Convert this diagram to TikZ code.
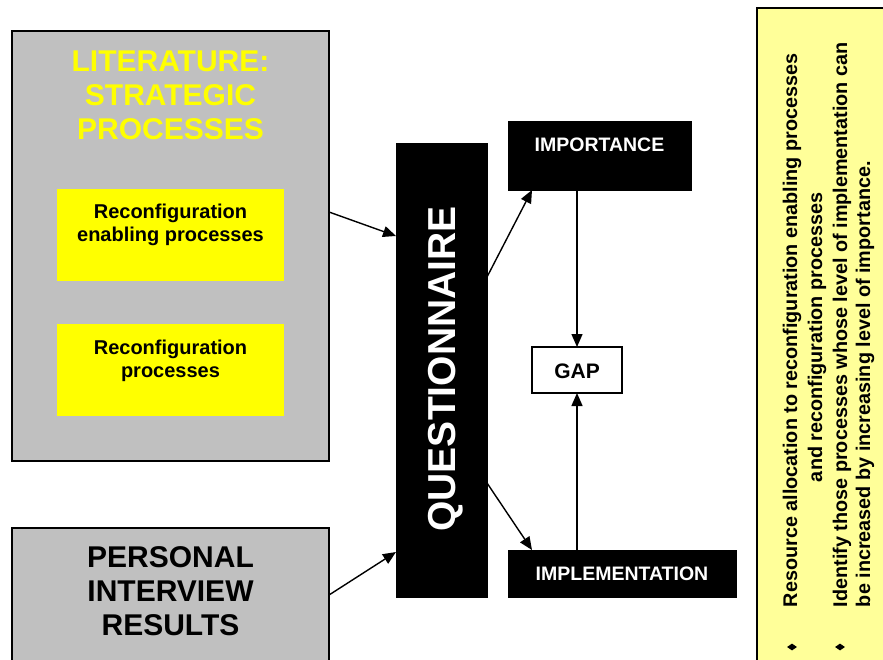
\documentclass[tikz,border=0pt]{standalone}
\usepackage{fontspec}
\setmainfont{Liberation Sans}
\usetikzlibrary{arrows.meta,shapes.geometric}

\definecolor{boxgray}{HTML}{C0C0C0}
\definecolor{hiyellow}{HTML}{FFFF00}
\definecolor{paleyellow}{HTML}{FFFF99}

\tikzset{
  panel/.style={draw=black, line width=1.2pt, inner sep=0pt, outer sep=0pt, rectangle},
  graypanel/.style={panel, fill=boxgray},
  yellowbox/.style={rectangle, fill=hiyellow, draw=none, inner sep=0pt, outer sep=0pt},
  blackbox/.style={rectangle, fill=black, draw=black, inner sep=0pt, outer sep=0pt},
  whitebox/.style={rectangle, fill=white, draw=black, line width=1.2pt, inner sep=0pt, outer sep=0pt},
  % multi-line texts are placed by the baseline of their last line
  txt/.style={inner sep=0pt, outer sep=0pt, anchor=base, align=center},
  flow/.style={line width=1.4pt, -{Triangle[length=13pt,width=11pt]}},
  bullet/.style={diamond, fill=black, inner sep=0pt, minimum width=10pt, minimum height=7pt}
}

\begin{document}
\begin{tikzpicture}[x=1pt,y=-1pt]
\useasboundingbox (0,0) rectangle (883,659);
\clip (0,0) rectangle (883,659);

% literature block with its two process groups
\node[graypanel, minimum width=317pt, minimum height=430pt] (lit) at (170.5,246) {};
\node[txt, text=hiyellow, font=\fontsize{30}{34}\selectfont\bfseries] (littitle) at (170.5,139)
  {LITERATURE:\\STRATEGIC\\PROCESSES};
\node[yellowbox, minimum width=227pt, minimum height=92pt] (recA) at (170.5,235) {};
\node[txt, font=\fontsize{20}{23}\selectfont\bfseries] (recAtext) at (170.5,241)
  {Reconfiguration\\enabling processes};
\node[yellowbox, minimum width=227pt, minimum height=92pt] (recB) at (170.5,370) {};
\node[txt, font=\fontsize{20}{23}\selectfont\bfseries] (recBtext) at (170.5,377)
  {Reconfiguration\\processes};

% interview results block
\node[graypanel, minimum width=317pt, minimum height=134pt] (pers) at (170.5,595) {};
\node[txt, font=\fontsize{30}{34}\selectfont\bfseries] (perstext) at (170.5,635)
  {PERSONAL\\INTERVIEW\\RESULTS};

% questionnaire
\node[blackbox, minimum width=91pt, minimum height=454pt] (quest) at (441.5,370) {};
\node[txt, rotate=90, text=white, font=\fontsize{39}{44}\selectfont\bfseries] (questtext) at (455,369)
  {QUESTIONNAIRE};

% importance, implementation and gap
\node[blackbox, minimum width=183pt, minimum height=69pt] (imp) at (599.5,155.5) {};
\node[txt, text=white, font=\fontsize{19.5}{22}\selectfont\bfseries] (imptext) at (599.5,151) {IMPORTANCE};
\node[blackbox, minimum width=228pt, minimum height=47pt] (impl) at (622,573.5) {};
\node[txt, text=white, font=\fontsize{19.5}{22}\selectfont\bfseries] (impltext) at (622,580) {IMPLEMENTATION};
\node[whitebox, minimum width=90pt, minimum height=46pt] (gap) at (577,370) {};
\node[txt, font=\fontsize{21}{24}\selectfont\bfseries] (gaptext) at (577,378) {GAP};

% connectors
\draw[flow] ([yshift=34pt]lit.east) -- ([yshift=134pt]quest.west);
\draw[flow] (pers.east) -- ([yshift=-182pt]quest.west);
\draw[flow] ([yshift=93pt]quest.east) -- ([xshift=24pt]imp.south west);
\draw[flow] ([yshift=-113pt]quest.east) -- ([xshift=24pt]impl.north west);
\draw[flow] (imp.south -| gap.north) -- (gap.north);
\draw[flow] (impl.north -| gap.south) -- (gap.south);

% conclusions panel
\node[panel, fill=paleyellow, minimum width=140pt, minimum height=670pt, anchor=north west] (concl) at (757,8) {};
\begin{scope}[every node/.style={inner sep=0pt, outer sep=0pt, rotate=90, anchor=base west,
    font=\fontsize{19.8}{23}\selectfont\bfseries}]
  \node (c1) at (797,607) {Resource allocation to reconfiguration enabling processes};
  \node (c2) at (822,482) {and reconfiguration processes};
  \node (c3) at (847,607) {Identify those processes whose level of implementation can};
  \node (c4) at (870,607) {be increased by increasing level of importance.};
\end{scope}
\node[bullet] (b1) at (792,647) {};
\node[bullet] (b2) at (840,647) {};
\end{tikzpicture}
\end{document}
